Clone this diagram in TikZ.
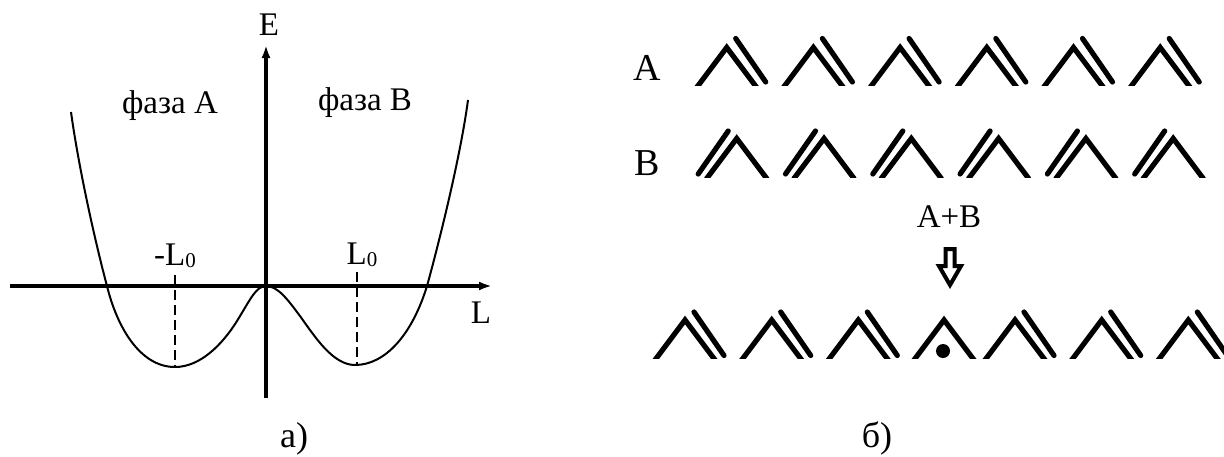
\documentclass[tikz,border=0pt]{standalone}
\usepackage{fontspec}
\setmainfont{Liberation Serif}
\usetikzlibrary{arrows.meta}
\newcommand{\subz}[1]{\raisebox{-2pt}{\fontsize{21}{21}\selectfont #1}}
\tikzset{
 axisline/.style={line width=4pt},
 curveline/.style={line width=2pt},
 tickdash/.style={line width=2pt, dash pattern=on 10pt off 5pt},
 chevline/.style={line width=5.2pt, line join=miter, miter limit=10},
 parline/.style={line width=5.2pt, line cap=round},
 lbl/.style={inner sep=0pt, anchor=base, font=\fontsize{33}{33}\selectfont},
 rowlbl/.style={inner sep=0pt, anchor=base, font=\fontsize{38}{38}\selectfont},
 caplbl/.style={inner sep=0pt, anchor=base, font=\fontsize{36}{36}\selectfont},
 hollowarrow/.style={line width=4pt, line join=miter, fill=white},
}
\begin{document}
\begin{tikzpicture}[x=1pt,y=-1pt]
\useasboundingbox (0,0) rectangle (1224,456);
% ---------- left: energy curve ----------
\coordinate (hL) at (10,286);
\coordinate (hR) at (492,286);
\coordinate (vB) at (266,398);
\coordinate (vT) at (266,45);
\draw[axisline,-{Latex[length=13pt,width=9pt]}] (hL) -- (hR);
\draw[axisline,-{Latex[length=13pt,width=9pt]}] (vB) -- (vT);
\draw[curveline] (71,112) .. controls (79,170) and (96,245) .. (107,286)
 .. controls (117,327) and (140,367) .. (175,367)
 .. controls (200,367) and (222,345) .. (237,321)
 .. controls (250,300) and (256,286) .. (266,286)
 .. controls (278,286) and (288,300) .. (300,316)
 .. controls (315,337) and (333,365) .. (355,365)
 .. controls (385,365) and (412,335) .. (427,286)
 .. controls (437,250) and (460,160) .. (468,100);
\draw[tickdash] (175,275) -- (175,367);
\draw[tickdash] (357,272) -- (357,365);
\node[lbl] (E) at (269,35) {E};
\node[lbl] (Lx) at (481,323) {L};
\node[lbl] (fA) at (170,113) {фаза A};
\node[lbl] (fB) at (365,110) {фаза B};
\node[lbl] (mL0) at (175,265) {-L\subz{0}};
\node[lbl] (L0) at (362,264) {L\subz{0}};
\node[caplbl] (capa) at (294,447) {a)};
% ---------- right: chevrons ----------
\node[rowlbl] (rA) at (647,80) {A};
\node[rowlbl] (rB) at (647,175) {B};
\begin{scope}
 \clip (600,0) rectangle (1224,85);
 \foreach \k in {0,...,5} {
  \pgfmathsetmacro\cx{726.7+86.7*\k}
  \draw[chevline] (\cx-30.4,88) -- (\cx,47.5) -- (\cx+30.4,88);
  \draw[parline] (\cx+9,38.5) -- (\cx+39,82);
 }
\end{scope}
\begin{scope}
 \clip (600,100) rectangle (1224,177);
 \foreach \k in {0,...,5} {
  \pgfmathsetmacro\cx{736.7+87.3*\k}
  \draw[chevline] (\cx-30.4,179) -- (\cx,138.5) -- (\cx+30.4,179);
  \draw[parline] (\cx-8.5,131) -- (\cx-38.5,174);
 }
\end{scope}
\node[lbl] (AB) at (949,227) {A+B};
\draw[hollowarrow] (945.5,249) -- (954.5,249) -- (954.5,266) -- (961,266)
 -- (950,285) -- (939,266) -- (945.5,266) -- cycle;
\begin{scope}
 \clip (600,290) rectangle (1224,358.5);
 \foreach \cx in {685,771.7,858.3,1015,1101.7,1188.3} {
  \draw[chevline] (\cx-30.75,361) -- (\cx,320) -- (\cx+30.75,361);
  \draw[parline] (\cx+9,312) -- (\cx+39,355.5);
 }
 \draw[chevline] (944-30.75,361) -- (944,320) -- (944+30.75,361);
\end{scope}
\fill (943,351) circle (7);
\node[caplbl] (capb) at (877,447) {б)};
\end{tikzpicture}
\end{document}
